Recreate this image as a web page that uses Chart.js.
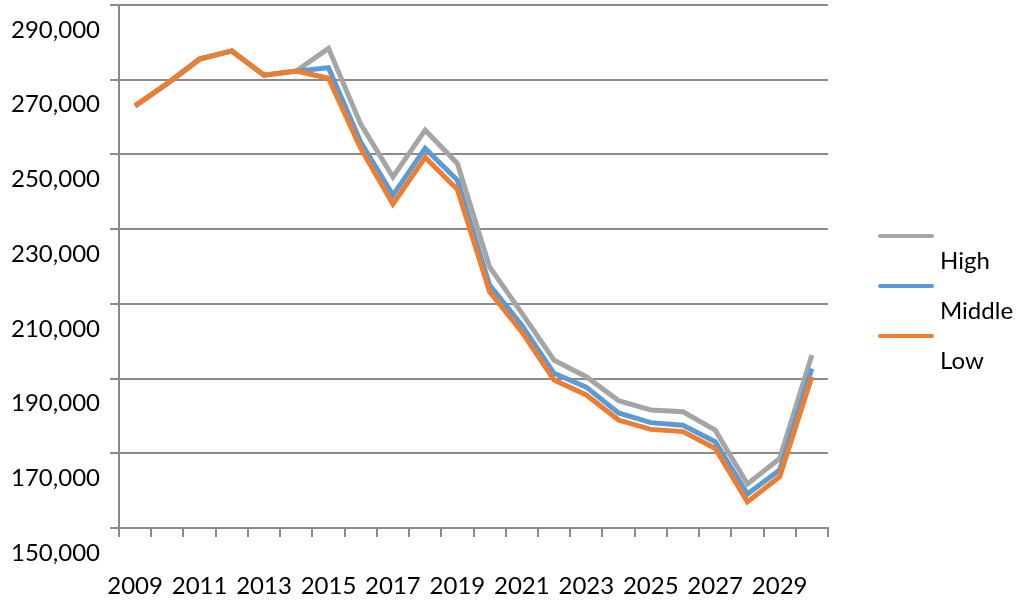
<!DOCTYPE html>
<html>
<head>
<meta charset="utf-8">
<script src="https://cdn.jsdelivr.net/npm/chart.js@4"></script>
<style>
  html, body { margin: 0; padding: 0; background: #fff; }
  #wrap { position: relative; width: 1024px; height: 602px; }
  #legend { position: absolute; left: 878px; top: 0; font-family: Lato, "Noto Sans", sans-serif; font-size: 24px; color: #000; }
  .item { position: absolute; left: 0; width: 140px; }
  .swatch { position: absolute; left: 0; width: 56px; height: 4px; border-radius: 2px; }
  .name { position: absolute; left: 62px; line-height: 24px; white-space: nowrap; }
</style>
</head>
<body>
<div id="wrap">
  <canvas id="lineChart"></canvas>
  <div id="legend"></div>
</div>
<script>
// chart data
const years = ['2009','2010','2011','2012','2013','2014','2015','2016','2017','2018','2019',
               '2020','2021','2022','2023','2024','2025','2026','2027','2028','2029','2030'];
const high   = [263000, 269000, 275500, 277700, 271200, 272300, 278400, 258100, 244000, 256500, 247600,
                219900, 207500, 194900, 190500, 184100, 181600, 181100, 176200, 161800, 168600, 196300];
const middle = [263000, 269000, 275500, 277700, 271200, 272300, 273200, 253300, 239100, 251600, 243100,
                215000, 204300, 191400, 187700, 180800, 178200, 177500, 173100, 159100, 165500, 192700];
const low    = [263000, 269000, 275500, 277700, 271200, 272300, 270400, 251600, 236700, 249200, 240600,
                213200, 202500, 189600, 185600, 178900, 176400, 175800, 171300, 157000, 163700, 190500];
const yTicks = { min: 150000, max: 290000, step: 20000 };

const seriesNames = ['High', 'Middle', 'Low'];
const colors = ['#A5A5A5', '#5B9BD5', '#ED7D31'];

const gridColor = '#8a8a8a';
const fontFamily = 'Lato, "Noto Sans", sans-serif';

function makeSet(i, data) {
  return {
    label: seriesNames[i],
    data: data,
    borderColor: colors[i],
    backgroundColor: colors[i],
    borderWidth: 5,
    pointRadius: 0,
    tension: 0,
    fill: false,
    order: 3 - i // Low drawn on top
  };
}

const ctx = document.getElementById('lineChart');
new Chart(ctx, {
  type: 'line',
  data: {
    labels: years,
    datasets: [makeSet(0, high), makeSet(1, middle), makeSet(2, low)]
  },
  options: {
    responsive: true,
    maintainAspectRatio: false,
    animation: false,
    layout: { padding: { top: 5, right: 196, left: 0, bottom: 0 } },
    plugins: { legend: { display: false }, tooltip: { enabled: false } },
    scales: {
      x: {
        type: 'category',
        offset: true,
        afterFit: s => { s.height = 74; s.paddingLeft = 0; s.paddingRight = 0; },
        grid: { offset: true, drawOnChartArea: false, drawTicks: true, tickLength: 9, color: gridColor, lineWidth: 2 },
        border: { display: true, color: gridColor, width: 2 },
        ticks: {
          autoSkip: false,
          maxRotation: 0,
          padding: 35,
          color: '#000',
          font: { family: fontFamily, size: 24 },
          callback: (v, i) => (i % 2 === 0 ? years[i] : '')
        }
      },
      y: {
        min: yTicks.min,
        max: yTicks.max,
        // labels hang below their lines, so no extra room at top/bottom
        afterFit: s => { s.width = 119; s.paddingTop = 0; s.paddingBottom = 0; },
        grid: { color: gridColor, lineWidth: 2, tickLength: 9 },
        border: { display: true, color: gridColor, width: 2 },
        ticks: {
          stepSize: yTicks.step,
          padding: 10,
          labelOffset: 25,
          color: '#000',
          font: { family: fontFamily, size: 24 },
          callback: v => v.toLocaleString('en-US')
        }
      }
    }
  }
});

// legend: line sample with the name set below it
const legendTops = [234, 284, 334];
const legend = document.getElementById('legend');
seriesNames.forEach((name, i) => {
  legend.innerHTML += `
    <div class="item" style="top:${legendTops[i]}px">
      <div class="swatch" style="background:${colors[i]}"></div>
      <div class="name" style="top:14px">${name}</div>
    </div>`;
});
</script>
</body>
</html>
